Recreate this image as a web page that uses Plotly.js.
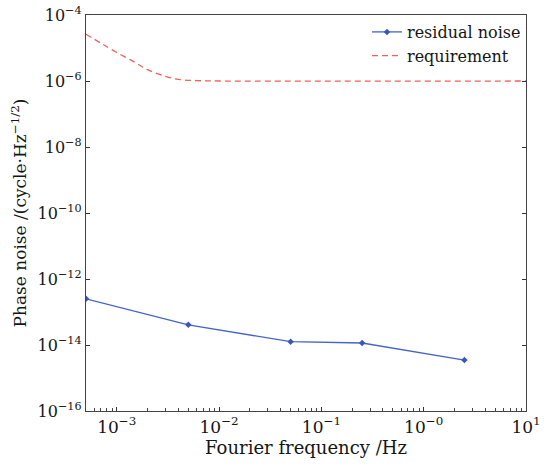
<!DOCTYPE html>
<html><head><meta charset="utf-8">
<script src="https://cdn.plot.ly/plotly-3.0.1.min.js"></script>
<style>html,body{margin:0;padding:0;background:#fff}#chart{width:546px;height:465px}</style>
</head><body><div id="chart"></div>
<script>
const residualFreq = [5e-4, 5e-3, 5e-2, 0.25, 2.5];
const residualNoise = [2.5e-13, 4.1e-14, 1.26e-14, 1.15e-14, 3.5e-15];
const reqFreq = [5e-4, 7e-4, 1e-3, 1.5e-3, 2e-3, 3e-3, 4e-3, 6e-3, 1e-2, 10];
const reqNoise = [2.6e-5, 1.4e-5, 7.3e-6, 3.7e-6, 2.2e-6, 1.38e-6, 1.12e-6, 1.03e-6, 1e-6, 1e-6];
const xTickVals = [1e-3, 1e-2, 1e-1, 1, 10];
const xTickText = ['10<sup>−3</sup>', '10<sup>−2</sup>', '10<sup>−1</sup>', '10<sup>−0</sup>', '10<sup>1</sup>'];
const yTickVals = [1e-16, 1e-14, 1e-12, 1e-10, 1e-8, 1e-6, 1e-4];
const yTickText = ['10<sup>−16</sup>', '10<sup>−14</sup>', '10<sup>−12</sup>', '10<sup>−10</sup>', '10<sup>−8</sup>', '10<sup>−6</sup>', '10<sup>−4</sup>'];
const minorMultipliers = [2, 3, 4, 5, 6, 7, 8, 9];
const minorDecades = [1e-4, 1e-3, 1e-2, 1e-1, 1];

const xMinor = [];
minorDecades.forEach(d => minorMultipliers.forEach(m => xMinor.push(m * d)));

const font = 'DejaVu Serif, Liberation Serif, serif';
const traces = [
  {x: residualFreq, y: residualNoise, name: 'residual noise', mode: 'lines+markers',
   line: {color: '#4563c8', width: 1.3}, marker: {symbol: 'diamond', size: 5, color: '#3a55c0'}},
  {x: reqFreq, y: reqNoise, name: 'requirement', mode: 'lines', line: {color: '#f2605a', width: 1.3, dash: '6px,4px', shape: 'spline'}}
];
const layout = {
  width: 546, height: 465,
  margin: {l: 86, r: 20, t: 15, b: 54},
  paper_bgcolor: '#fff', plot_bgcolor: '#fff',
  font: {family: font, color: '#151515', size: 15},
  showlegend: true,
  legend: {x: 1.0, y: 1.0, xanchor: 'right', yanchor: 'top', bgcolor: 'rgba(0,0,0,0)',
           font: {size: 16, family: font}, tracegroupgap: 0, itemwidth: 30},
  xaxis: {type: 'log', range: [Math.log10(5e-4), 1], tickvals: xTickVals, ticktext: xTickText,
          ticks: 'inside', ticklen: 4, tickcolor: '#333', showline: true, linecolor: '#444', linewidth: 1.2, mirror: true,
          showgrid: false, zeroline: false, tickfont: {size: 17},
          minor: {tickvals: xMinor, ticks: 'inside', ticklen: 3, tickcolor: '#444', showgrid: false},
          title: {text: 'Fourier frequency /Hz', font: {size: 18}, standoff: 4}},
  yaxis: {type: 'log', range: [-16, -4], tickvals: yTickVals, ticktext: yTickText,
          ticks: 'inside', ticklen: 4, tickcolor: '#333', showline: true, linecolor: '#444', linewidth: 1.2, mirror: 'ticks',
          showgrid: false, zeroline: false, tickfont: {size: 16},
          title: {text: 'Phase noise /(cycle·Hz<sup>−1/2</sup>)', font: {size: 17}, standoff: 6}}
};
Plotly.newPlot('chart', traces, layout, {displayModeBar: false, staticPlot: true});
</script></body></html>
